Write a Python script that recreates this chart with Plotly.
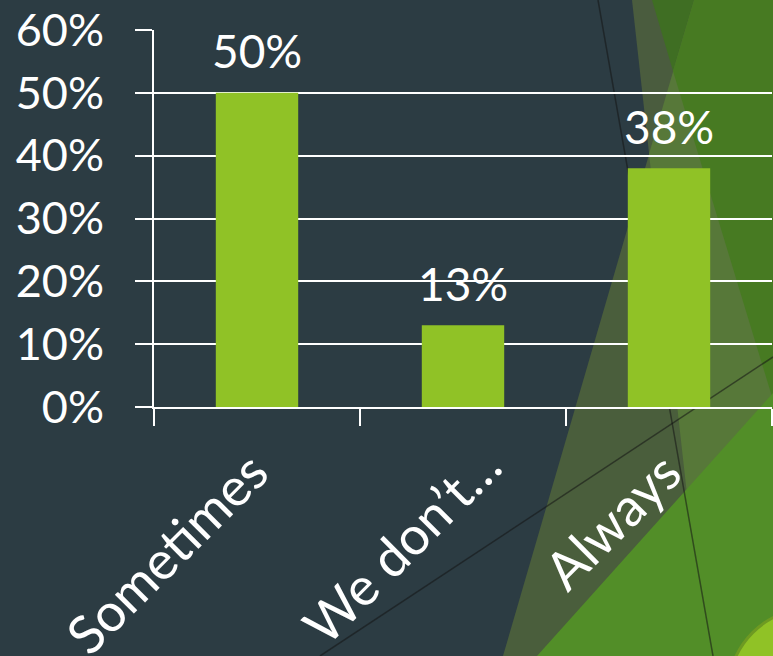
import plotly.graph_objects as go

# Survey answers and their shares
categories = ["Sometimes", "We don’t…", "Always"]
shares = [0.50, 0.13, 0.38]
y_ticks = [0.0, 0.1, 0.2, 0.3, 0.4, 0.5, 0.6]

# Pixel shifts of each slanted category label relative to the axis
label_dx = [25, 52, 26]
label_dy = [-30, -23, -30]

BG = "#2C3C43"
BAR = "#90C226"
FONT = "Lato"

W, H = 773, 656
ML, MR, MT, MB = 154, 1, 30, 249
PW, PH = W - ML - MR, H - MT - MB


def px(x):
    return (x - ML) / PW


def py(y):
    return (H - MB - y) / PH


def poly(points, color):
    d = "M " + " L ".join(f"{px(x):.5f},{py(y):.5f}" for x, y in points) + " Z"
    return dict(type="path", xref="paper", yref="paper", path=d,
                fillcolor=color, line=dict(width=0), layer="below")


# Decorative backdrop: overlapping facets on the right
shapes = [
    poly([(694, 0), (773, 0), (773, 656), (503, 656)], "#4A5E3C"),
    poly([(632, 0), (773, 0), (773, 656), (705, 656)], "#4A5C3E"),
    poly([(694, 0), (773, 0), (773, 656), (705, 656), (649, 154)], "#577839"),
    poly([(652, 0), (694, 0), (673, 71)], "#3F6E23"),
    poly([(694, 0), (773, 0), (773, 400), (673, 71)], "#477A22"),
    poly([(537, 656), (773, 393), (773, 656)], "#528E28"),
    dict(type="line", xref="paper", yref="paper",
         x0=px(598), y0=py(0), x1=px(713), y1=py(656),
         line=dict(color="rgba(20,20,20,0.55)", width=1.5), layer="below"),
    dict(type="line", xref="paper", yref="paper",
         x0=px(320), y0=py(656), x1=px(773), y1=py(357),
         line=dict(color="rgba(20,20,20,0.55)", width=1.5), layer="below"),
    dict(type="circle", xref="paper", yref="paper",
         x0=px(728), x1=px(896), y0=py(776), y1=py(608),
         fillcolor=BAR, line=dict(color="#6E9A22", width=3), layer="below"),
]

fig = go.Figure(
    go.Bar(x=categories, y=shares, marker=dict(color=BAR, line=dict(width=0)),
           width=0.4, hoverinfo="skip")
)

# Value labels above each bar
for c, v in zip(categories, shares):
    fig.add_annotation(x=c, y=v, text=f"{v:.0%}", showarrow=False,
                       yanchor="middle", yshift=42,
                       font=dict(family=FONT, size=46, color="white"))

# Slanted category labels under the axis
for c, dx, dy in zip(categories, label_dx, label_dy):
    fig.add_annotation(x=c, y=0, text=c, showarrow=False, textangle=-45,
                       xanchor="right", yanchor="top", xshift=dx, yshift=dy,
                       font=dict(family=FONT, size=53, color="white"))

fig.update_layout(
    width=W, height=H,
    margin=dict(l=ML, r=MR, t=MT, b=MB, pad=0),
    paper_bgcolor=BG, plot_bgcolor="rgba(0,0,0,0)",
    showlegend=False, shapes=shapes,
    font=dict(family=FONT, color="white"),
)
fig.update_xaxes(
    type="category", range=[-0.5, len(categories) - 0.5],
    tickson="boundaries", ticks="outside", ticklen=17,
    tickwidth=2, tickcolor="white", showline=True, linecolor="white",
    linewidth=2, showgrid=False, showticklabels=False, automargin=False,
)
fig.update_yaxes(
    range=[0, 0.6], tickvals=y_ticks, tickformat=".0%", ticks="outside",
    ticklen=17, tickwidth=2, tickcolor="white", showline=True,
    linecolor="white", linewidth=2, showgrid=True, gridcolor="white",
    gridwidth=2, zeroline=False, automargin=False, ticklabelstandoff=22,
    tickfont=dict(family=FONT, size=45, color="white"),
)

fig.write_html("out.html")
